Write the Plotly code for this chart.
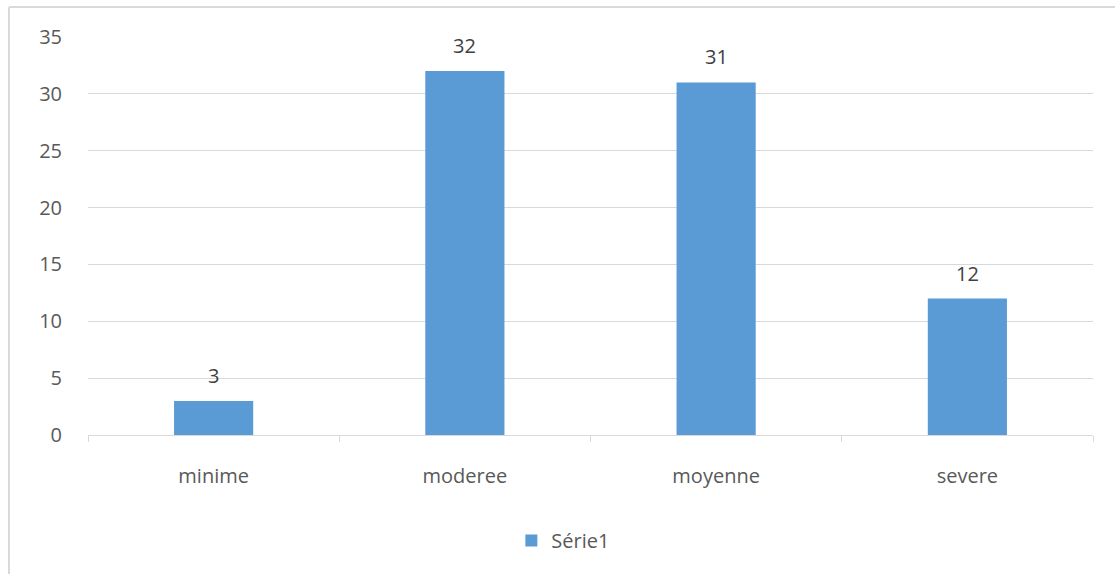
import plotly.graph_objects as go

categories = ["minime", "moderee", "moyenne", "severe"]
values = [3, 32, 31, 12]
series_name = "Série1"
y_ticks = [0, 5, 10, 15, 20, 25, 30, 35]

bar_color = "#5b9bd5"
grid_color = "#d9d9d9"
font_family = "Open Sans, Lato, sans-serif"
text_size = 20

fig = go.Figure()
fig.add_trace(go.Bar(
    x=categories,
    y=values,
    name=series_name,
    marker=dict(color=bar_color, line=dict(width=0)),
    width=0.315,
    showlegend=True,
))

# value labels above each bar
for c, v in zip(categories, values):
    fig.add_annotation(
        x=c, y=v, text=str(v), showarrow=False,
        yanchor="bottom", yshift=10,
        font=dict(family=font_family, size=text_size, color="#404040"),
    )

# outer chart frame
fig.add_shape(type="line", xref="paper", yref="paper",
              x0=-79 / 1005, x1=1.1, y0=(435 - 7) / 398, y1=(435 - 7) / 398,
              line=dict(color="#d9d9d9", width=2))
fig.add_shape(type="line", xref="paper", yref="paper",
              x0=-79 / 1005, x1=-79 / 1005, y0=(435 - 7) / 398, y1=-0.4,
              line=dict(color="#d9d9d9", width=2))

fig.update_layout(
    width=1115, height=574,
    margin=dict(l=88, r=22, t=37, b=139),
    paper_bgcolor="white",
    plot_bgcolor="white",
    font=dict(family=font_family, size=text_size, color="#595959"),
    bargap=0.685,
    xaxis=dict(
        type="category",
        showline=True, linecolor=grid_color, linewidth=1,
        ticks="outside", tickson="boundaries", ticklen=6, tickcolor=grid_color,
        tickfont=dict(family=font_family, size=text_size, color="#595959"),
        ticklabelstandoff=23,
        showgrid=False,
    ),
    yaxis=dict(
        range=[0, 35],
        tickvals=y_ticks,
        showgrid=True, gridcolor=grid_color, gridwidth=1,
        zeroline=False, showline=False, ticks="",
        tickfont=dict(family=font_family, size=text_size, color="#595959"),
        ticklabelstandoff=25,
    ),
    legend=dict(
        orientation="h",
        x=0.473, xanchor="center",
        y=-0.265, yanchor="middle",
        font=dict(family=font_family, size=text_size, color="#595959"),
        itemwidth=30,
    ),
)

fig.write_html("out.html")
